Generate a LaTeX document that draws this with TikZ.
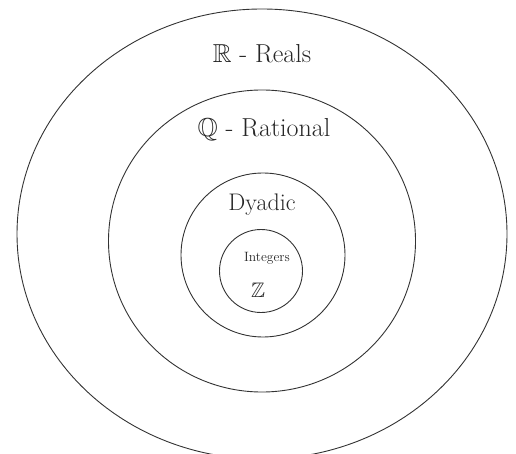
\documentclass[tikz,border=0pt]{standalone}
\usepackage{amssymb}
\usetikzlibrary{shapes.geometric}
\begin{document}
\begin{tikzpicture}[x=1pt,y=-1pt,
  ring/.style={draw=black!80,line width=0.9pt},
  lbl/.style={inner sep=0pt,text=black!85}]
\useasboundingbox (0,0) rectangle (516,454);
\begin{scope}
\clip (0,0) rectangle (516,454);
\draw[ring] (262,234) ellipse [x radius=245, y radius=225];
\end{scope}
\node[ring,ellipse,minimum width=307pt,minimum height=302pt,inner sep=0pt] (q) at (262,241) {};
\node[ring,circle,minimum size=164pt,inner sep=0pt] (d) at (263,255) {};
\node[ring,circle,minimum size=83pt,inner sep=0pt] (z) at (261,271) {};
\node[lbl,font=\fontsize{26}{29}\selectfont] (rl) at (262,54) {$\mathbb{R}$ - Reals};
\node[lbl,font=\fontsize{26}{29}\selectfont] (ql) at (264,130) {$\mathbb{Q}$ - Rational};
\node[lbl,font=\fontsize{24}{27}\selectfont] (dl) at (262,205) {Dyadic};
\node[lbl,font=\fontsize{13.5}{15}\selectfont] (il) at (267,258) {Integers};
\node[lbl,font=\fontsize{21}{23}\selectfont] (zl) at (258,290) {$\mathbb{Z}$};
\end{tikzpicture}
\end{document}
